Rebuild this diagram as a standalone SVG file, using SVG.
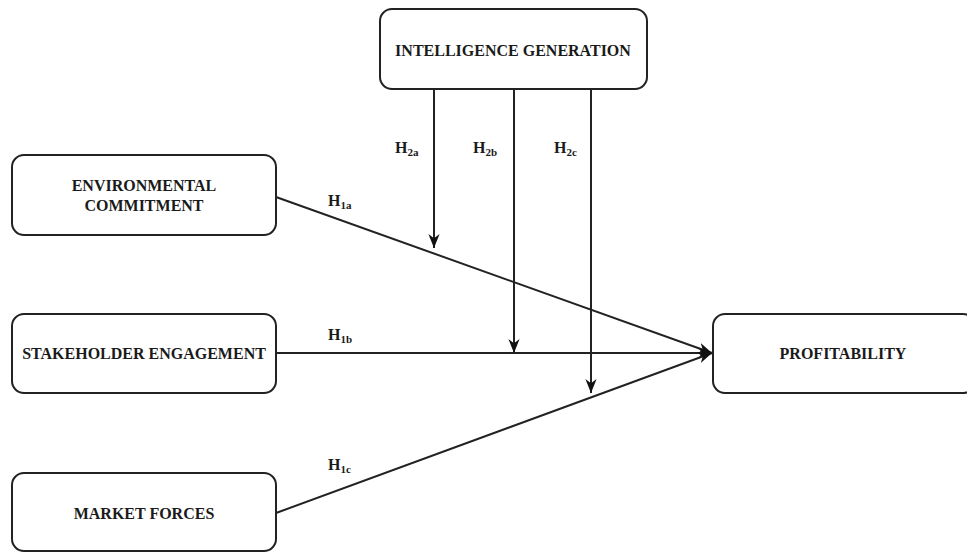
<svg xmlns="http://www.w3.org/2000/svg" width="967" height="552" viewBox="0 0 967 552">
<style>
.box{fill:#fff;stroke:#222;stroke-width:2}
.t{font-family:"Liberation Serif",serif;font-weight:bold;font-size:16px;fill:#1a1a1a;text-anchor:middle}
.h{font-family:"Liberation Serif",serif;font-weight:bold;font-size:16px;fill:#1a1a1a}
.s{font-size:11px}
.ln{stroke:#222;stroke-width:2;fill:none}
</style>
<defs>
<marker id="av" viewBox="0 0 10 10" refX="10" refY="5" markerWidth="14" markerHeight="14" markerUnits="userSpaceOnUse" orient="auto">
<path d="M0,1 L10,5 L0,9 L3,5 z" fill="#111"/>
</marker>
</defs>
<g id="connectors">
<line class="ln" x1="276" y1="197" x2="712" y2="353" marker-end="url(#av)"/>
<line class="ln" x1="276" y1="353" x2="712" y2="353" marker-end="url(#av)"/>
<line class="ln" x1="276" y1="513" x2="712" y2="353" marker-end="url(#av)"/>
<line class="ln" x1="434" y1="89" x2="434" y2="248" marker-end="url(#av)"/>
<line class="ln" x1="514" y1="89" x2="514" y2="353" marker-end="url(#av)"/>
<line class="ln" x1="591" y1="89" x2="591" y2="393" marker-end="url(#av)"/>
<text class="h" x="395" y="153">H<tspan class="s" dy="3">2a</tspan></text>
<text class="h" x="473" y="153">H<tspan class="s" dy="3">2b</tspan></text>
<text class="h" x="554" y="153">H<tspan class="s" dy="3">2c</tspan></text>
<text class="h" x="328" y="206">H<tspan class="s" dy="3">1a</tspan></text>
<text class="h" x="328" y="340">H<tspan class="s" dy="3">1b</tspan></text>
<text class="h" x="328" y="470">H<tspan class="s" dy="3">1c</tspan></text>
</g>
<g id="intelligence">
<rect class="box" x="380" y="9" width="267" height="80" rx="12"/>
<text class="t" x="513" y="56">INTELLIGENCE GENERATION</text>
</g>
<g id="environmental">
<rect class="box" x="12" y="155" width="264" height="80" rx="12"/>
<text class="t" x="144" y="191">ENVIRONMENTAL</text>
<text class="t" x="144" y="211">COMMITMENT</text>
</g>
<g id="stakeholder">
<rect class="box" x="12" y="314" width="264" height="79" rx="12"/>
<text class="t" x="144" y="359">STAKEHOLDER ENGAGEMENT</text>
</g>
<g id="market">
<rect class="box" x="12" y="473" width="264" height="78" rx="12"/>
<text class="t" x="144" y="519">MARKET FORCES</text>
</g>
<g id="profitability">
<rect class="box" x="713" y="314" width="262" height="79" rx="12"/>
<text class="t" x="843" y="359">PROFITABILITY</text>
</g>
</svg>
